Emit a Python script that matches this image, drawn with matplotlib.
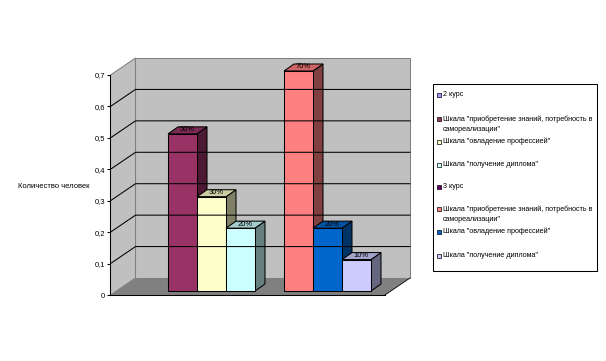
import matplotlib
matplotlib.use('Agg')
import matplotlib.pyplot as plt
from matplotlib.patches import Polygon, Rectangle

plt.rcParams['font.family'] = ['Liberation Sans', 'DejaVu Sans']

# values
values_2 = [0.5, 0.3, 0.2]
values_3 = [0.7, 0.2, 0.1]
labels_2 = ['50%', '30%', '20%']
labels_3 = ['70%', '20%', '10%']
colors_2 = ['#993366', '#FFFFCC', '#CCFFFF']
colors_3 = ['#FF8080', '#0066CC', '#CCCCFF']
slots_2 = [0, 1, 2]
slots_3 = [4, 5, 6]
yticks = [0, 0.1, 0.2, 0.3, 0.4, 0.5, 0.6, 0.7]
ytick_labels = ['0', '0,1', '0,2', '0,3', '0,4', '0,5', '0,6', '0,7']
legend_labels = ['2 курс',
                 'Шкала "приобретение знаний, потребность в\nсамореализации"',
                 'Шкала "овладение профессией"',
                 'Шкала "получение диплома"',
                 '3 курс',
                 'Шкала "приобретение знаний, потребность в\nсамореализации"',
                 'Шкала "овладение профессией"',
                 'Шкала "получение диплома"']
legend_colors = ['#9999FF', '#993366', '#FFFFCC', '#CCFFFF',
                 '#660066', '#FF8080', '#0066CC', '#CCCCFF']
legend_y = [95.5, 119, 142, 165, 187, 209, 232, 256]

W, H = 606, 361
SLOT = 29.0     # px per bar
UNIT = 220 / 0.7  # px per 1.0 on the value axis
X0, Y0 = 168, 295
LW = 0.75       # about one pixel

# depth offsets, in data units
wall_dx, wall_dy = 25 / SLOT, 17 / UNIT
bar_dx, bar_dy = 10 / SLOT, 7 / UNIT
base = 4 / UNIT
left = (110.5 - X0) / SLOT
right = (385 - X0) / SLOT
top = 0.7

fig = plt.figure(figsize=(W / 100, H / 100), dpi=100)
ax = fig.add_axes([0, 0, 1, 1])
ax.set_xlim(-X0 / SLOT, (W - X0) / SLOT)
ax.set_ylim(-(H - Y0) / UNIT, Y0 / UNIT)
ax.patch.set_alpha(0)

# walls and floor
ax.add_patch(Polygon([(left + wall_dx, wall_dy), (right + wall_dx, wall_dy),
                      (right + wall_dx, top + wall_dy), (left + wall_dx, top + wall_dy)],
                     fc='#C0C0C0', ec='#808080', lw=LW))
ax.add_patch(Polygon([(left, 0), (left + wall_dx, wall_dy),
                      (left + wall_dx, top + wall_dy), (left, top)],
                     fc='#C0C0C0', ec='#808080', lw=LW))
ax.add_patch(Polygon([(left, 0), (right, 0), (right + wall_dx, wall_dy), (left + wall_dx, wall_dy)],
                     fc='#808080', ec='none'))
ax.plot([right, right + wall_dx], [0, wall_dy], color='black', lw=0.6)

# gridlines on back and side wall
for t in yticks[1:-1]:
    ax.plot([left, left + wall_dx, right + wall_dx], [t, t + wall_dy, t + wall_dy],
            color='black', lw=LW, solid_joinstyle='miter')


def shade(c, f):
    r, g, b = matplotlib.colors.to_rgb(c)
    return (r * f, g * f, b * f)


def draw_bar(x, v, c, label):
    y0 = base
    y1 = v + base
    ax.add_patch(Polygon([(x + 1, y0), (x + 1 + bar_dx, y0 + bar_dy),
                          (x + 1 + bar_dx, y1 + bar_dy), (x + 1, y1)],
                         fc=shade(c, 0.5), ec='black', lw=LW))
    ax.add_patch(Polygon([(x, y1), (x + 1, y1), (x + 1 + bar_dx, y1 + bar_dy), (x + bar_dx, y1 + bar_dy)],
                         fc=shade(c, 0.8), ec='black', lw=LW))
    ax.add_patch(Rectangle((x, y0), 1, v, fc=c, ec='black', lw=LW))
    ax.text(x + 0.5 + bar_dx / 2, y1 + bar_dy / 2 + 0.002, label, ha='center', va='center', fontsize=5.5)


for x, v, c, lab in zip(slots_2, values_2, colors_2, labels_2):
    draw_bar(x, v, c, lab)
for x, v, c, lab in zip(slots_3, values_3, colors_3, labels_3):
    draw_bar(x, v, c, lab)

# value axis
for name in ['top', 'right']:
    ax.spines[name].set_visible(False)
ax.spines['left'].set_position(('data', left))
ax.spines['left'].set_bounds(0, top)
ax.spines['left'].set_linewidth(LW)
ax.spines['bottom'].set_position(('data', 0))
ax.spines['bottom'].set_bounds(left, right)
ax.spines['bottom'].set_linewidth(LW)
ax.set_xticks([])
ax.set_yticks(yticks)
ax.set_yticklabels(ytick_labels, fontsize=5.5)
ax.tick_params(axis='y', length=2.5, width=LW, pad=1.5)

ax.text(18 / SLOT - X0 / SLOT, (Y0 - 187) / UNIT, 'Количество человек', ha='left', va='center', fontsize=5.5)

# legend box, drawn in figure pixels
tr = matplotlib.transforms.Affine2D().scale(1 / W, -1 / H).translate(0, 1) + fig.transFigure
fig.add_artist(Rectangle((432.5, 83.5), 164, 187, fc='white', ec='black', lw=LW, transform=tr))
for y, c, lab in zip(legend_y, legend_colors, legend_labels):
    fig.add_artist(Rectangle((436.5, y - 2.5), 4, 4, fc=c, ec='black', lw=0.5, transform=tr))
    wrapped = '\n' in lab
    fig.text(443 / W, 1 - ((y - 3.5) if wrapped else (y - 0.5)) / H, lab, fontsize=5.15, ha='left',
             va='top' if wrapped else 'center', linespacing=1.55)

fig.savefig('out.png', dpi=100)
